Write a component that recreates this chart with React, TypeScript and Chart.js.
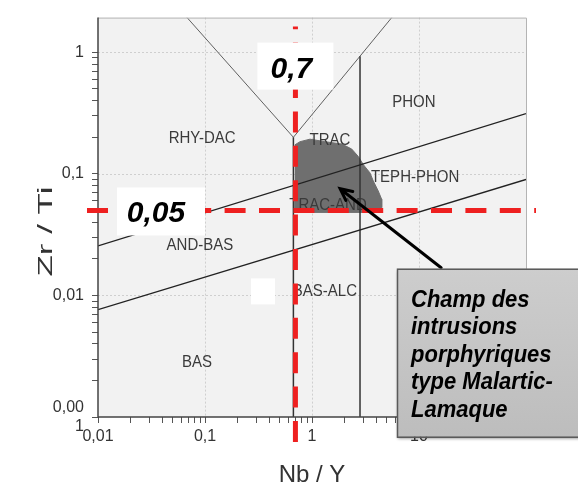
import React, { useEffect, useRef } from 'react';
import { Chart, registerables } from 'chart.js';

Chart.register(...registerables);

// ---------- axes ----------
const X_MIN = 0.01;
const X_MAX = 100;
const Y_MIN = 0.001;
const Y_MAX = 1.93;
const xDecades = [0.01, 0.1, 1, 10, 100];
const xDecadeLabels: (string | string[])[] = ['0,01', '0,1', '1', '10', ''];
const yDecades = [0.001, 0.01, 0.1, 1];
const yDecadeLabels: (string | string[])[] = [['0,00', '1'], '0,01', '0,1', '1'];
const minorMultipliers = [2, 3, 4, 5, 6, 7, 8, 9];
const xTitle = 'Nb / Y';
const yTitle = 'Zr / Ti';

// ---------- classification boundaries (Nb/Y , Zr/Ti) ----------
const lineRhyTrac = [{ x: 0.068, y: 1.93 }, { x: 0.67, y: 0.2 }];
const lineTracPhon = [{ x: 0.67, y: 0.2 }, { x: 5.56, y: 1.93 }];
const lineAlcVert = [{ x: 0.67, y: 0.2 }, { x: 0.67, y: 0.001 }];
const linePhonVert = [{ x: 2.81, y: 0.93 }, { x: 2.81, y: 0.001 }];
const lineUpper = [{ x: 0.01, y: 0.0256 }, { x: 100, y: 0.313 }];
const lineLower = [{ x: 0.01, y: 0.00765 }, { x: 100, y: 0.0899 }];

// ---------- field of the Malartic-Lamaque porphyries ----------
const fieldNbY = [0.69, 0.773, 0.958, 1.32, 1.9, 2.35, 2.71, 3.02, 3.48, 3.74, 4.16, 4.48, 4.48, 4.32, 0.69];
const fieldZrTi = [0.173, 0.184, 0.193, 0.184, 0.176, 0.16, 0.139, 0.119, 0.102, 0.0873, 0.0723, 0.0618, 0.0529, 0.0482, 0.0482];

// ---------- region names ----------
const regionNames = ['RHY-DAC', 'TRAC', 'PHON', 'TEPH-PHON', 'TRAC-AND', 'AND-BAS', 'BAS-ALC', 'BAS'];
const regionNbY = [0.094, 1.47, 8.97, 9.2, 1.41, 0.0897, 1.32, 0.084];
const regionZrTi = [0.196, 0.189, 0.385, 0.093, 0.055, 0.026, 0.0108, 0.0028];

// ---------- thresholds & callout ----------
const thresholdNbY = 0.7;
const thresholdNbYLabel = '0,7';
const thresholdZrTi = 0.05;
const thresholdZrTiLabel = '0,05';
const arrowTip = { x: 1.83, y: 0.0755 };
const arrowTail = { x: 16.1, y: 0.0169 };
const calloutLines = ['Champ des', 'intrusions', 'porphyriques', 'type Malartic-', 'Lamaque'];

const FONT = '"Liberation Sans", Arial, sans-serif';

function buildTicks(decades: number[], min: number, max: number) {
  const out: number[] = [];
  for (const d of decades) {
    out.push(d);
    for (const m of minorMultipliers) {
      const v = d * m;
      if (v > min && v < max) out.push(v);
    }
  }
  return out.filter((v) => v >= min - 1e-12 && v <= max + 1e-12).sort((a, b) => a - b);
}

function labelFor(value: number, decades: number[], labels: (string | string[])[]) {
  for (let i = 0; i < decades.length; i++) {
    if (Math.abs(value - decades[i]) / decades[i] < 1e-6) return labels[i];
  }
  return '';
}

function stretchText(ctx: CanvasRenderingContext2D, text: string, x: number, y: number, sy: number) {
  ctx.save();
  ctx.translate(x, y);
  ctx.scale(1, sy);
  ctx.fillText(text, 0, 0);
  ctx.restore();
}

const decorPlugin = {
  id: 'decor',
  beforeDraw(chart: any) {
    const { ctx, chartArea: a, scales } = chart;
    const xs = scales.x;
    const ys = scales.y;
    ctx.save();
    ctx.fillStyle = '#ffffff';
    ctx.fillRect(0, 0, chart.width, chart.height);
    ctx.fillStyle = '#f2f2f2';
    ctx.fillRect(a.left, a.top, a.right - a.left, a.bottom - a.top);
    ctx.strokeStyle = '#cfcfcf';
    ctx.lineWidth = 1;
    ctx.setLineDash([2, 2]);
    for (const d of xDecades) {
      if (d <= X_MIN || d >= X_MAX) continue;
      const px = Math.round(xs.getPixelForValue(d)) + 0.5;
      ctx.beginPath();
      ctx.moveTo(px, a.top);
      ctx.lineTo(px, a.bottom);
      ctx.stroke();
    }
    for (const d of yDecades) {
      if (d <= Y_MIN || d >= Y_MAX) continue;
      const py = Math.round(ys.getPixelForValue(d)) + 0.5;
      ctx.beginPath();
      ctx.moveTo(a.left, py);
      ctx.lineTo(a.right, py);
      ctx.stroke();
    }
    ctx.restore();
  },
  afterDraw(chart: any) {
    const { ctx, chartArea: a, scales } = chart;
    const xs = scales.x;
    const ys = scales.y;
    ctx.save();

    // frame
    ctx.setLineDash([]);
    ctx.strokeStyle = '#b4b4b4';
    ctx.lineWidth = 1;
    ctx.beginPath();
    ctx.moveTo(a.left, a.top + 0.5);
    ctx.lineTo(a.right + 0.5, a.top + 0.5);
    ctx.lineTo(a.right + 0.5, a.bottom);
    ctx.stroke();
    ctx.strokeStyle = '#444';
    ctx.lineWidth = 1.5;
    ctx.beginPath();
    ctx.moveTo(a.left, a.top);
    ctx.lineTo(a.left, a.bottom);
    ctx.lineTo(a.right, a.bottom);
    ctx.stroke();

    // region names
    ctx.fillStyle = '#3a3a3a';
    ctx.font = `15px ${FONT}`;
    ctx.textAlign = 'center';
    ctx.textBaseline = 'middle';
    regionNames.forEach((n, i) => {
      stretchText(ctx, n, xs.getPixelForValue(regionNbY[i]), ys.getPixelForValue(regionZrTi[i]), 1.12);
    });

    // axis titles
    ctx.fillStyle = '#333';
    ctx.font = `24px ${FONT}`;
    ctx.textAlign = 'center';
    ctx.textBaseline = 'alphabetic';
    ctx.fillText(xTitle, (a.left + a.right) / 2, chart.height - 3);
    ctx.font = `21px ${FONT}`;
    const w = ctx.measureText(yTitle).width;
    ctx.save();
    ctx.translate(a.left - 46, a.top + 214);
    ctx.rotate(-Math.PI / 2);
    ctx.scale(90 / w, 1);
    ctx.fillText(yTitle, 0, 0);
    ctx.restore();

    // red threshold lines
    const vx = xs.getPixelForValue(thresholdNbY);
    const hy = ys.getPixelForValue(thresholdZrTi);
    ctx.strokeStyle = '#ee2020';
    ctx.lineWidth = 5;
    ctx.setLineDash([21, 13.4]);
    ctx.beginPath();
    ctx.moveTo(vx, a.bottom + 25);
    ctx.lineTo(vx, a.top + 9);
    ctx.stroke();
    ctx.beginPath();
    ctx.moveTo(a.left - 11, hy);
    ctx.lineTo(a.right + 10, hy);
    ctx.stroke();
    ctx.setLineDash([]);

    // white label boxes
    ctx.fillStyle = '#ffffff';
    ctx.fillRect(vx - 38, a.top + 25, 76, 47);
    ctx.fillRect(a.left + 19, hy - 23, 88, 48);
    // small white mask
    ctx.fillRect(a.left + 153, ys.getPixelForValue(0.0108) - 13, 24, 26);

    ctx.fillStyle = '#000';
    ctx.font = `italic bold 30px ${FONT}`;
    ctx.textAlign = 'center';
    ctx.textBaseline = 'alphabetic';
    ctx.fillText(thresholdNbYLabel, vx - 4, a.top + 60);
    ctx.fillText(thresholdZrTiLabel, a.left + 58, hy + 12);

    // arrow
    const tx = xs.getPixelForValue(arrowTip.x);
    const ty = ys.getPixelForValue(arrowTip.y);
    const sx = xs.getPixelForValue(arrowTail.x);
    const sy = ys.getPixelForValue(arrowTail.y);
    ctx.strokeStyle = '#000';
    ctx.lineWidth = 3;
    ctx.lineCap = 'round';
    ctx.beginPath();
    ctx.moveTo(sx, sy);
    ctx.lineTo(tx, ty);
    const ang = Math.atan2(ty - sy, tx - sx);
    const hl = 13;
    ctx.moveTo(tx - hl * Math.cos(ang - 0.45), ty - hl * Math.sin(ang - 0.45));
    ctx.lineTo(tx, ty);
    ctx.lineTo(tx - hl * Math.cos(ang + 0.45), ty - hl * Math.sin(ang + 0.45));
    ctx.stroke();

    // callout box
    const bx = a.right - 129;
    const by = sy + 1;
    const bw = 200;
    const bh = 168;
    ctx.save();
    ctx.shadowColor = 'rgba(0,0,0,0.45)';
    ctx.shadowBlur = 3;
    ctx.shadowOffsetY = 2;
    ctx.shadowOffsetX = 1;
    const g = ctx.createLinearGradient(0, by, 0, by + bh);
    g.addColorStop(0, '#cdcdcd');
    g.addColorStop(1, '#bdbdbd');
    ctx.fillStyle = g;
    ctx.fillRect(bx, by, bw, bh);
    ctx.restore();
    ctx.strokeStyle = '#5a5a5a';
    ctx.lineWidth = 1.5;
    ctx.strokeRect(bx + 0.5, by + 0.5, bw, bh);

    ctx.fillStyle = '#000';
    ctx.font = `italic bold 22px ${FONT}`;
    ctx.textAlign = 'left';
    ctx.textBaseline = 'alphabetic';
    calloutLines.forEach((t, i) => {
      stretchText(ctx, t, bx + 14, by + 38 + i * 27.5, 1.12);
    });

    ctx.restore();
  },
};

export default function App() {
  const ref = useRef<HTMLCanvasElement | null>(null);

  useEffect(() => {
    if (!ref.current) return;
    const xTicks = buildTicks(xDecades, X_MIN, X_MAX);
    const yTicks = buildTicks(yDecades, Y_MIN, Y_MAX);
    const lineDs = (data: { x: number; y: number }[], color: string, width: number) => ({
      data,
      showLine: true,
      borderColor: color,
      borderWidth: width,
      pointRadius: 0,
      fill: false,
    });
    const field = fieldNbY.map((x, i) => ({ x, y: fieldZrTi[i] }));

    const chart = new Chart(ref.current, {
      type: 'scatter',
      data: {
        datasets: [
          lineDs(lineUpper, '#222', 1.3),
          lineDs(lineLower, '#222', 1.3),
          lineDs(lineAlcVert, '#333', 1.5),
          lineDs(linePhonVert, '#333', 1.5),
          lineDs(lineRhyTrac, '#606060', 1),
          lineDs(lineTracPhon, '#606060', 1),
          {
            data: field,
            showLine: true,
            borderColor: '#6f6f6f',
            borderWidth: 1,
            backgroundColor: '#6f6f6f',
            pointRadius: 0,
            fill: 'shape',
            tension: 0,
          },
        ],
      },
      options: {
        responsive: false,
        animation: false,
        devicePixelRatio: 1,
        events: [],
        layout: { padding: { left: 0, top: 13, right: 52, bottom: 0 } },
        plugins: { legend: { display: false }, tooltip: { enabled: false } },
        scales: {
          x: {
            type: 'logarithmic',
            min: X_MIN,
            max: X_MAX,
            bounds: 'data',
            afterBuildTicks: (s: any) => {
              s.ticks = xTicks.map((v) => ({ value: v }));
            },
            afterFit: (s: any) => {
              s.height = 68;
            },
            grid: { drawOnChartArea: false, drawTicks: true, tickLength: 6, tickColor: '#555', tickWidth: 1 },
            border: { display: false },
            ticks: {
              autoSkip: false,
              maxRotation: 0,
              minRotation: 0,
              padding: 4,
              color: '#333',
              font: { family: FONT, size: 16 },
              callback: (v: any) => labelFor(Number(v), xDecades, xDecadeLabels),
            },
          },
          y: {
            type: 'logarithmic',
            min: Y_MIN,
            max: Y_MAX,
            bounds: 'data',
            afterBuildTicks: (s: any) => {
              s.ticks = yTicks.map((v) => ({ value: v }));
            },
            afterFit: (s: any) => {
              s.width = 98;
            },
            grid: { drawOnChartArea: false, drawTicks: true, tickLength: 6, tickColor: '#555', tickWidth: 1 },
            border: { display: false },
            ticks: {
              autoSkip: false,
              padding: 8,
              color: '#333',
              font: { family: FONT, size: 16 },
              callback: (v: any) => labelFor(Number(v), yDecades, yDecadeLabels),
            },
          },
        },
      },
      plugins: [decorPlugin],
    } as any);
    return () => chart.destroy();
  }, []);

  return (
    <div style={{ position: 'absolute', left: 0, top: 0, width: 578, height: 485, background: '#fff' }}>
      <canvas ref={ref} width={578} height={485} style={{ display: 'block' }} />
    </div>
  );
}
